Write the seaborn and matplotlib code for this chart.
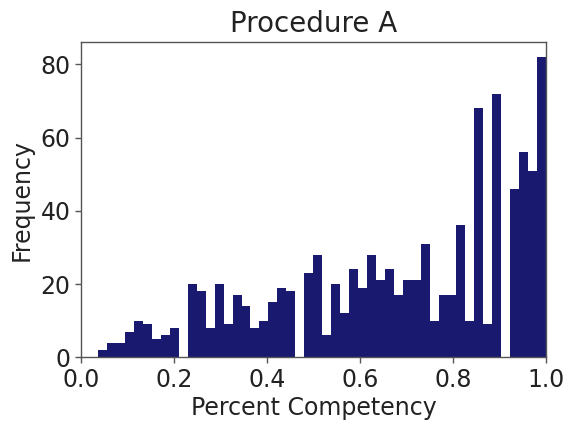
import numpy as np
import pandas as pd
import matplotlib
matplotlib.use("Agg")
import matplotlib.pyplot as plt
import seaborn as sns

# Histogram counts (50 bins from ~0.037 to 1.0)
bin_start = 0.037
bin_end = 1.0
n_bins = 50
counts = [2, 4, 4, 7, 10, 9, 5, 6, 8, 0,
          20, 18, 8, 20, 9, 17, 14, 8, 10, 15,
          19, 18, 0, 23, 28, 6, 20, 12, 24, 19,
          28, 21, 24, 17, 21, 21, 31, 10, 17, 17,
          36, 10, 68, 9, 72, 0, 46, 56, 51, 82]
x_ticks = [0.0, 0.2, 0.4, 0.6, 0.8, 1.0]
y_ticks = [0, 20, 40, 60, 80]

edges = np.linspace(bin_start, bin_end, n_bins + 1)
centers = (edges[:-1] + edges[1:]) / 2
df = pd.DataFrame({"Percent Competency": centers, "count": counts})

sns.set_style("white")
fig = plt.figure(figsize=(5.68, 4.22), dpi=100)
ax = fig.add_axes([0.1426, 0.1533, 0.8187, 0.7472])
sns.histplot(data=df, x="Percent Competency", weights="count",
             bins=n_bins, binrange=(bin_start, bin_end),
             color="#191970", alpha=1.0, linewidth=0, ax=ax)
ax.set_xlim(0, 1.0)
ax.set_xticks(x_ticks)
ax.set_yticks(y_ticks)
ax.set_xticklabels([f"{t:.1f}" for t in x_ticks])
ax.tick_params(axis="both", labelsize=17, length=4, width=1, direction="out",
               bottom=True, left=True, color="#555555", labelcolor="#222222")
ax.set_xlabel("Percent Competency", fontsize=17, labelpad=3, color="#222222")
ax.set_ylabel("Frequency", fontsize=17, labelpad=5, color="#222222")
ax.set_title("Procedure A", fontsize=20, pad=7, color="#222222")
for s in ax.spines.values():
    s.set_visible(True)
    s.set_color("#555555")
    s.set_linewidth(1)
fig.savefig("out.png", dpi=100)
